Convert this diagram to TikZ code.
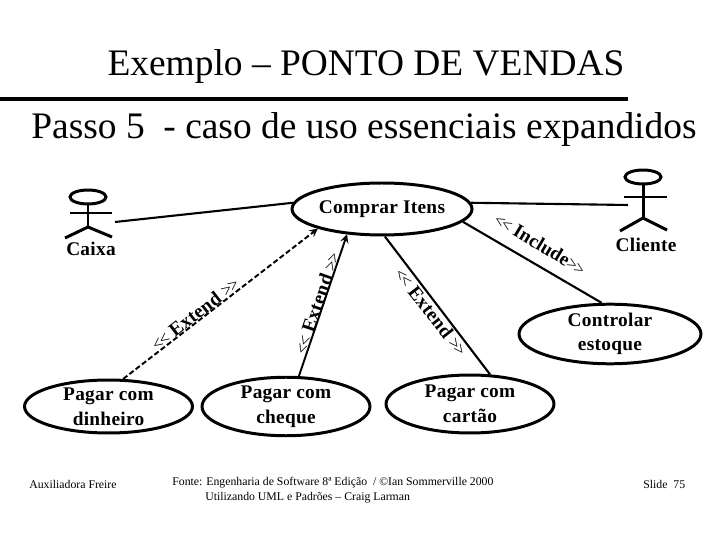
\documentclass[tikz,border=0pt]{standalone}
\usepackage{fontspec}
\setmainfont{Liberation Serif}
\usetikzlibrary{shapes.geometric}
\newfontfamily\spaced[LetterSpace=1.5]{Liberation Serif}

\begin{document}
\begin{tikzpicture}[
    x=0.02cm, y=-0.02cm,
    usecase/.style={ellipse, draw=black, line width=1.7pt, inner sep=0pt,
                    align=center, font=\spaced\fontsize{11}{14}\selectfont\bfseries},
    actorlbl/.style={font=\spaced\fontsize{11}{13}\selectfont\bfseries},
    actor/.style={draw=black, line width=1.7pt},
    head/.style={ellipse, actor, inner sep=0pt,
                 minimum width=0.72cm, minimum height=0.28cm},
    assoc/.style={draw=black, line width=1.2pt},
    arr/.style={-stealth, black, line width=1.1pt},
    rellbl/.style={font=\fontsize{10}{12}\selectfont, inner sep=0pt},
    bigtxt/.style={font=\fontsize{21.3}{26}\selectfont, inner sep=0pt},
    foot/.style={font=\fontsize{6.7}{8.4}\selectfont, anchor=west, inner sep=0pt},
]
\useasboundingbox (0,0) rectangle (720,540);

% Header
\node[bigtxt] (title) at (366,67) {Exemplo -- PONTO DE VENDAS};
\coordinate (ruleleft) at (0,99);
\coordinate (ruleright) at (628,99);
\draw[black, line width=2.6pt] (ruleleft) -- (ruleright);
\node[bigtxt] (subtitle) at (364,130) {Passo 5\ \ - caso de uso essenciais expandidos};

% Actor Caixa
\node[head] (caixahead) at (88,197) {};
\coordinate (caixahip) at (88,227);
\coordinate (caixaarml) at (70,213);
\coordinate (caixaarmr) at (112,213);
\coordinate (caixafootl) at (65,238);
\coordinate (caixafootr) at (112,237);
\coordinate (caixaend) at (115,222);
\draw[actor] (caixahead) -- (caixahip);
\draw[actor] (caixaarml) -- (caixaarmr);
\draw[actor] (caixafootl) -- (caixahip) -- (caixafootr);
\node[actorlbl] (caixa) at (91,249) {Caixa};

% Actor Cliente
\node[head] (clientehead) at (643,177) {};
\coordinate (clientehip) at (643,218);
\coordinate (clientearml) at (624,197);
\coordinate (clientearmr) at (667,197);
\coordinate (clientefootl) at (620,231);
\coordinate (clientefootr) at (667,230);
\coordinate (clienteend) at (628,205);
\draw[actor] (clientehead) -- (clientehip);
\draw[actor] (clientearml) -- (clientearmr);
\draw[actor] (clientefootl) -- (clientehip) -- (clientefootr);
\node[actorlbl] (cliente) at (646,245) {Cliente};

% Use cases
\node[usecase, minimum width=3.6cm, minimum height=1.04cm] (comprar) at (382,209) {Comprar Itens};
\node[usecase, minimum width=3.36cm, minimum height=1.06cm] (dinheiro) at (108.5,406.5) {Pagar com\\dinheiro};
\node[usecase, minimum width=3.36cm, minimum height=1.06cm] (cheque) at (286,406.5) {Pagar com\\cheque};
\node[usecase, minimum width=3.36cm, minimum height=1.16cm] (cartao) at (470,404) {Pagar com\\cart\~ao};
\node[usecase, minimum width=3.64cm, minimum height=1.08cm] (estoque) at (610,334) {Controlar\\estoque};

% Connectors
\draw[assoc] (caixaend) -- (comprar.176);
\draw[assoc] (comprar.4) -- (clienteend);
\draw[arr, dash pattern=on 3pt off 1.5pt] (dinheiro.62) -- (comprar.197);
\draw[arr] (cheque.67) -- (comprar.216);
\draw[assoc] (cartao.56) -- (comprar.276);
\draw[assoc] (comprar.351) -- (estoque.105);

% Stereotypes
\node[rellbl, rotate=38] (lbldinheiro) at (195,314) {<\kern-1pt< \textbf{\spaced\fontsize{11}{12}\selectfont Extend} >\kern-1pt>};
\node[rellbl, rotate=71] (lblcheque) at (317,303) {<\kern-1pt< \textbf{\spaced\fontsize{11}{12}\selectfont Extend} >\kern-1pt>};
\node[rellbl, rotate=-52] (lblcartao) at (431,312) {<\kern-1pt< \textbf{\spaced\fontsize{11}{12}\selectfont Extend} >\kern-1pt>};
\node[rellbl, rotate=-31] (lblinclude) at (540,244) {<\kern-1pt< \textbf{\fontsize{11}{12}\selectfont Include}>\kern-1pt>};

% Footer
\node[foot] (autora) at (29,484) {Auxiliadora Freire};
\node[foot] (fonte) at (172,483) {Fonte: Engenharia de Software 8ª Edição\ \ / ©Ian Sommerville 2000};
\node[foot] (fonte2) at (205,498) {Utilizando UML e Padrões -- Craig Larman};
\node[foot] (slide) at (643,484) {Slide\ \ 75};
\end{tikzpicture}
\end{document}
